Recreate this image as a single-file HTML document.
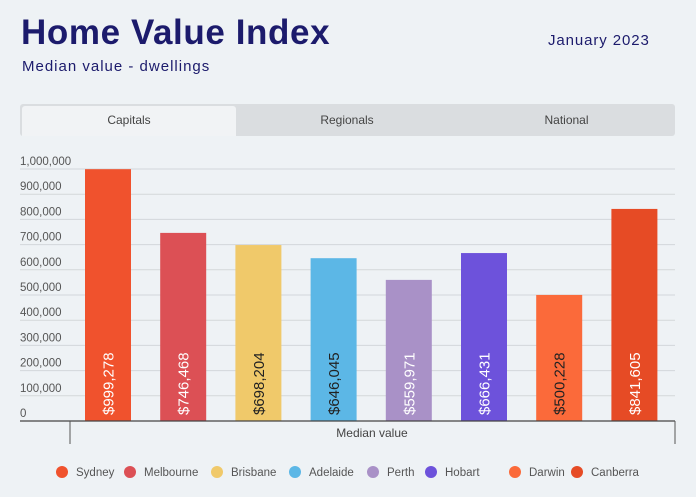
<!DOCTYPE html>
<html><head><meta charset="utf-8"><style>
body{margin:0;background:#eef2f5;font-family:"Liberation Sans",sans-serif;}
#wrap{position:relative;width:696px;height:497px;overflow:hidden;background:#eef2f5}
.t{position:absolute;white-space:nowrap}
</style></head><body>
<div id="wrap">
<div class="t" style="left:21px;top:13px;font-size:35px;font-weight:bold;color:#1c1b6c;letter-spacing:0.6px">Home Value Index</div>
<div class="t" style="left:22px;top:58px;font-size:15px;color:#1c1b6c;letter-spacing:1px">Median value - dwellings</div>
<div class="t" style="left:548px;top:32px;font-size:15px;color:#1c1b6c;letter-spacing:0.9px">January 2023</div>
<div style="position:absolute;left:20px;top:104px;width:655px;height:32px;background:#dadde0;border-radius:3px"></div>
<div style="position:absolute;left:22px;top:106px;width:214px;height:30px;background:#f1f3f5;border-radius:3px 3px 0 0;font-size:12px;color:#444;text-align:center;line-height:28px">Capitals</div>
<div class="t" style="left:236px;top:106px;width:222px;text-align:center;font-size:12px;color:#444;line-height:28px">Regionals</div>
<div class="t" style="left:458px;top:106px;width:217px;text-align:center;font-size:12px;color:#444;line-height:28px">National</div>
<svg id="svg" width="696" height="497" style="position:absolute;left:0;top:0"></svg>
</div>
<script>
const categories=["Sydney","Melbourne","Brisbane","Adelaide","Perth","Hobart","Darwin","Canberra"];
const values=[999278,746468,698204,646045,559971,666431,500228,841605];
const labels=["$999,278","$746,468","$698,204","$646,045","$559,971","$666,431","$500,228","$841,605"];
const colors=["#f0522d","#dc5055","#f0c96a","#5cb7e6","#a991c7","#6d52db","#fb6a3a","#e64b25"];
const textColors=["#fff","#fff","#222","#222","#fff","#fff","#222","#fff"];
const ticks=[0,100000,200000,300000,400000,500000,600000,700000,800000,900000,1000000];
const tickLabels=["0","100,000","200,000","300,000","400,000","500,000","600,000","700,000","800,000","900,000","1,000,000"];
const legendX=[62,130,217,295,373,431,515,577];
const NS="http://www.w3.org/2000/svg";
const svg=document.getElementById('svg');
const y0=421,yTop=169,vMax=1000000;
const y=v=>y0-(v/vMax)*(y0-yTop);
const x=i=>85+i*75.2;
const bw=46;
function mk(t,a,p){const e=document.createElementNS(NS,t);for(const k in a)e.setAttribute(k,a[k]);(p||svg).appendChild(e);return e;}
ticks.forEach((t,i)=>{
 if(t>0){const l=mk('line',{x1:20,x2:675,y1:y(t),y2:y(t),stroke:'#d3d7da','stroke-width':1});
 
 }
 const tx=mk('text',{x:20,y:y(t)-4,'font-size':11.5,fill:'#555','font-family':'Liberation Sans, sans-serif'});
 tx.textContent=tickLabels[i];
 
 
});
values.forEach((v,i)=>{
 const r=mk('rect',{x:x(i),y:y(v),width:bw,height:y0-y(v),fill:colors[i]});
 
 
 const cx=x(i)+bw/2+5.5, cy=415;
 const t=mk('text',{x:cx,y:cy,'font-size':15,fill:textColors[i],transform:`rotate(-90 ${cx} ${cy})`,'font-family':'Liberation Sans, sans-serif'});
 t.textContent=labels[i];
 
 
});
const ax=mk('line',{x1:20,x2:675,y1:y0,y2:y0,stroke:'#444','stroke-width':1.3});


[70,675].forEach(px=>{const l=mk('line',{x1:px,x2:px,y1:y0,y2:444,stroke:'#555','stroke-width':1});
 
 });
const xt=mk('text',{x:372,y:437,'font-size':12,fill:'#444','text-anchor':'middle','font-family':'Liberation Sans, sans-serif'});
xt.textContent='Median value';


categories.forEach((c,i)=>{
 const g=mk('g',{});
 
 
 mk('circle',{cx:legendX[i],cy:472,r:6,fill:colors[i]},g);
 const t=mk('text',{x:legendX[i]+14,y:476,'font-size':11.5,fill:'#555','font-family':'Liberation Sans, sans-serif'},g);
 t.textContent=c;
});
</script>
</body></html>
